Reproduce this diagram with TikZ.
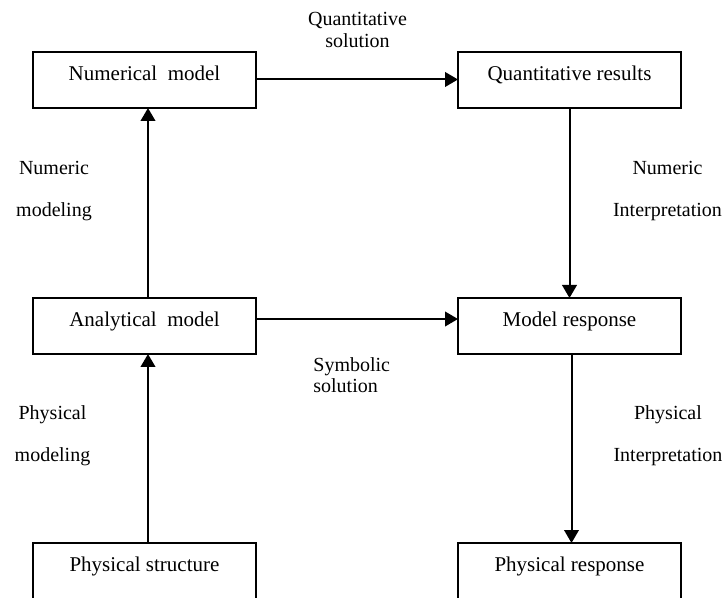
\documentclass[tikz,border=0pt]{standalone}
\usepackage{fontspec}
\setmainfont{Liberation Serif}
\usepackage{tikz}
\usetikzlibrary{arrows.meta,positioning}

\begin{document}
\begin{tikzpicture}[x=0.5pt,y=-0.5pt,>={Triangle[length=6.5pt,width=7.3pt]},node distance=101pt,
blk/.style={draw,line width=1pt,minimum width=111.5pt,minimum height=28pt,inner sep=0pt,outer sep=0pt,text height=5pt,text depth=4.5pt,font=\fontsize{10.5pt}{12pt}\selectfont},
lbl/.style={align=center,inner sep=0pt,font=\fontsize{10pt}{21pt}\selectfont},
arr/.style={->,line width=1pt}]
\useasboundingbox (0,0) rectangle (728,598);
\node[blk] (N) at (144.5,80) {Numerical\ \ model};
\node[blk,right=of N] (QR) {Quantitative results};
\node[blk,below=95pt of N] (A) {Analytical\ \ model};
\node[blk,below=94.5pt of A] (PS) {Physical structure};
\node[blk,right=of A] (MR) {Model response};
\node[blk,right=of PS] (PR) {Physical response};
\node[lbl,font=\fontsize{10pt}{11pt}\selectfont] (qsol) at (357.5,30) {Quantitative\\solution};
\node[lbl,font=\fontsize{10pt}{10.5pt}\selectfont,align=left,anchor=west] (ssol) at (313,374.7) {Symbolic\\solution};
\node[lbl] (nmod) at (54,191) {Numeric\\modeling};
\node[lbl] (pmod) at (52.5,436) {Physical\\modeling};
\node[lbl] (nint) at (667.5,191) {Numeric\\Interpretation};
\node[lbl] (pint) at (668,436) {Physical\\Interpretation};
\draw[arr] ([yshift=0.25pt]N.east)--([yshift=0.25pt]QR.west);\draw[arr] ([xshift=1.75pt]A.north)--([xshift=1.75pt]N.south);\draw[arr] ([xshift=1.75pt]PS.north)--([xshift=1.75pt]A.south);
\draw[arr] ([yshift=3.5pt]A.east)--([yshift=3.5pt]MR.west);\draw[arr] (QR)--(MR);\draw[arr] ([xshift=1pt]MR.south)--([xshift=1pt]PR.north);
\end{tikzpicture}
\end{document}
